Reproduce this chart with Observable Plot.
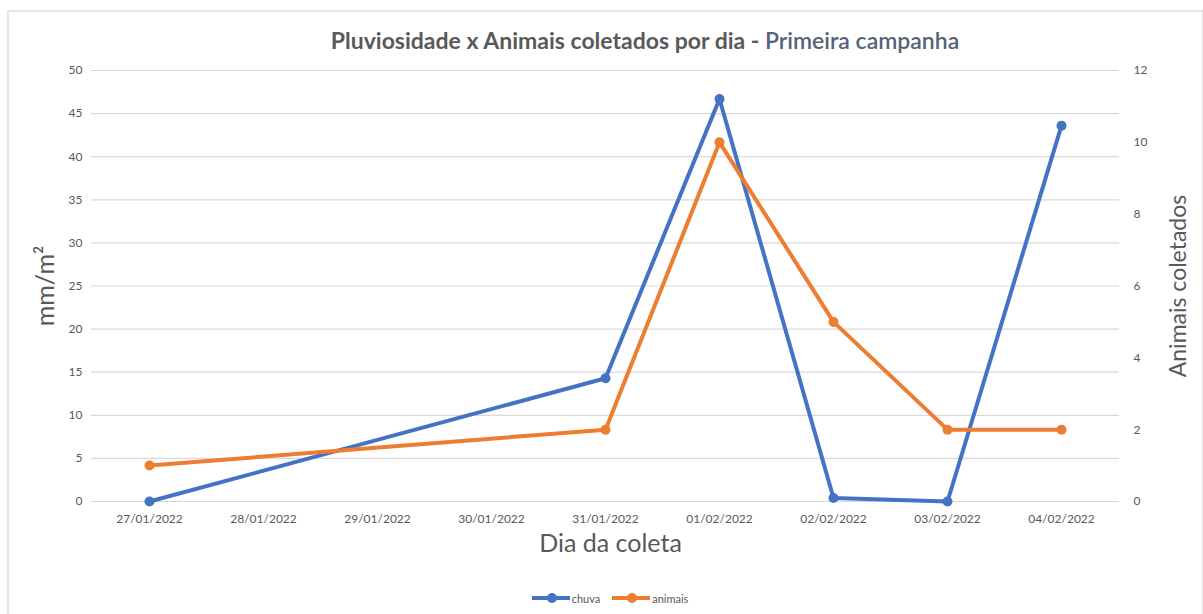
<!DOCTYPE html>
<html><head><meta charset="utf-8">
<script src="https://cdn.jsdelivr.net/npm/d3@7"></script>
<script src="https://cdn.jsdelivr.net/npm/@observablehq/plot@0.6"></script>
<style>
body{margin:0;background:#fff;font-family:Lato,"Open Sans",sans-serif;width:1203px;height:614px;overflow:hidden;position:relative;}
#frame{position:absolute;left:7px;top:10px;width:1197px;height:640px;border:2px solid #e4e4e4;box-sizing:border-box;}
#title{position:absolute;top:26px;left:0;width:1290px;text-align:center;font-size:23px;font-weight:bold;color:#595959;white-space:nowrap;}
#title span{font-weight:600;color:#56627a;}
#chart{position:absolute;left:0;top:55px;}
#legend{position:absolute;top:589px;left:0;width:1220px;text-align:center;font-size:11px;color:#595959;}
.item{display:inline-flex;align-items:center;margin:0 6px;}
.sw{position:relative;width:38px;height:4px;margin-right:2px;}
.sw i{position:absolute;left:15px;top:-3px;width:10px;height:10px;border-radius:50%;}
</style></head>
<body>
<div id="frame"></div>
<div id="title">Pluviosidade x Animais coletados por dia - <span>Primeira campanha</span></div>
<div id="chart"></div>
<div id="legend"></div>
<script>
const dias = ["27/01/2022","28/01/2022","29/01/2022","30/01/2022","31/01/2022","01/02/2022","02/02/2022","03/02/2022","04/02/2022"];
const diasColeta = ["27/01/2022","31/01/2022","01/02/2022","02/02/2022","03/02/2022","04/02/2022"];
const chuva = [0, 14.3, 46.7, 0.4, 0, 43.6];
const animais = [1, 2, 10, 5, 2, 2];
const ticksEsq = [0,5,10,15,20,25,30,35,40,45,50];
const ticksDir = [0,2,4,6,8,10,12];
const maxEsq = 50, maxDir = 12;
const cores = {chuva:"#4472C4", animais:"#ED7D31"};

const dChuva = diasColeta.map((d,i)=>({dia:d, v:chuva[i]}));
const dAnimais = diasColeta.map((d,i)=>({dia:d, v:animais[i]}));
const toLeft = v => v*maxEsq/maxDir;

const gray = "#595959";
const plot = Plot.plot({
  width: 1203, height: 510,
  marginLeft: 91, marginRight: 84, marginTop: 15, marginBottom: 64,
  style: {fontFamily: "Lato, 'Open Sans', sans-serif", color: gray, background: "transparent"},
  x: {type: "point", domain: dias, padding: 0.5},
  y: {domain: [0, maxEsq]},
  marks: [
    Plot.gridY(ticksEsq, {stroke: "#d9d9d9", strokeOpacity: 1, strokeWidth: 1.2}),
    Plot.axisY(ticksEsq, {tickSize: 0, tickPadding: 9, fontSize: 12, fill: gray, label: null}),
    Plot.text(ticksDir, {y: d => toLeft(d), text: d => String(d), frameAnchor: "right", dx: 14, textAnchor: "start", fontSize: 12, fill: gray}),
    Plot.axisX(dias, {tickSize: 0, tickPadding: 13, fontSize: 12, fill: gray, label: null}),
    Plot.text(["mm/m²"], {text: d => d, frameAnchor: "left", textAnchor: "middle", dx: -46, rotate: -90, fontSize: 25, fill: gray}),
    Plot.text(["Animais coletados"], {text: d => d, frameAnchor: "right", textAnchor: "middle", dx: 59, rotate: -90, fontSize: 23, fill: gray}),
    Plot.text(["Dia da coleta"], {text: d => d, frameAnchor: "bottom", textAnchor: "middle", dx: 5, dy: 50, fontSize: 25, fill: gray}),
    Plot.line(dChuva, {x: "dia", y: "v", stroke: cores.chuva, strokeWidth: 4}),
    Plot.dot(dChuva, {x: "dia", y: "v", r: 5, fill: cores.chuva}),
    Plot.line(dAnimais, {x: "dia", y: d => toLeft(d.v), stroke: cores.animais, strokeWidth: 4}),
    Plot.dot(dAnimais, {x: "dia", y: d => toLeft(d.v), r: 5, fill: cores.animais})
  ]
});
document.getElementById("chart").appendChild(plot);

const leg = document.getElementById("legend");
[["chuva", cores.chuva], ["animais", cores.animais]].forEach(([n,c]) => {
  const s = document.createElement("span"); s.className = "item";
  s.innerHTML = `<span class="sw" style="background:${c}"><i style="background:${c}"></i></span>${n}`;
  leg.appendChild(s);
});
</script>
</body></html>
